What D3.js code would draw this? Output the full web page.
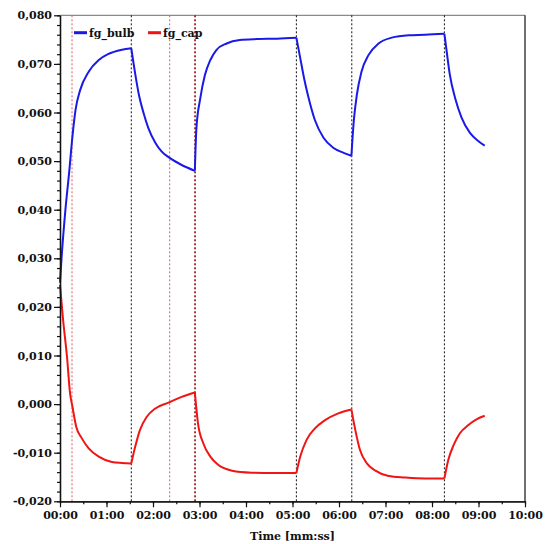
<!DOCTYPE html>
<html>
<head>
<meta charset="utf-8">
<script src="https://cdn.jsdelivr.net/npm/d3@7"></script>
<style>
  html, body { margin: 0; padding: 0; background: #ffffff; }
  svg text { font-family: "DejaVu Serif", "Liberation Serif", serif; font-weight: bold; }
</style>
</head>
<body>
<svg id="chart" width="547" height="544"></svg>
<script>
// Elapsed time in seconds, with the readings of each probe
const bulbTime = [0, 2, 7, 12, 16, 20, 26, 37, 50, 62, 80, 92,
  97, 102, 108, 114, 123, 131, 142, 157, 174,
  176, 181, 187, 194, 202, 215, 232, 254, 280, 305,
  310, 315, 320, 329, 340, 353, 366, 376,
  379, 383, 389, 398, 411, 428, 450, 471, 496,
  499, 503, 510, 518, 529, 540, 548];
const bulbValues = [0.0250, 0.0300, 0.0400, 0.0480, 0.0550, 0.0605, 0.0646, 0.0684, 0.0708, 0.0720, 0.0729, 0.0732,
  0.0680, 0.0635, 0.0598, 0.0568, 0.0538, 0.0520, 0.0506, 0.0492, 0.0480,
  0.0567, 0.0629, 0.0677, 0.0708, 0.0729, 0.0742, 0.0749, 0.0751, 0.0752, 0.0754,
  0.0712, 0.0670, 0.0635, 0.0584, 0.0548, 0.0527, 0.0517, 0.0511,
  0.0581, 0.0636, 0.0684, 0.0718, 0.0742, 0.0754, 0.0759, 0.0760, 0.0762,
  0.0725, 0.0678, 0.0629, 0.0590, 0.0558, 0.0541, 0.0532];

const capTime = [0, 4, 9, 13, 16, 21, 28, 37, 50, 67, 80, 92,
  97, 103, 112, 123, 140, 157, 174,
  178, 185, 194, 204, 222, 247, 277, 305,
  310, 318, 329, 342, 359, 376,
  381, 387, 396, 407, 424, 445, 471, 496,
  501, 508, 516, 527, 538, 548];
const capValues = [0.0245, 0.0173, 0.0098, 0.0022, -0.0005, -0.0047, -0.0070, -0.0091, -0.0108, -0.0119, -0.0121, -0.0122,
  -0.0088, -0.0054, -0.0026, -0.0009, 0.0003, 0.0015, 0.0024,
  -0.0039, -0.0081, -0.0108, -0.0125, -0.0137, -0.0141, -0.0142, -0.0142,
  -0.0108, -0.0074, -0.0050, -0.0033, -0.0019, -0.0011,
  -0.0053, -0.0094, -0.0122, -0.0137, -0.0148, -0.0151, -0.0153, -0.0153,
  -0.0115, -0.0084, -0.0060, -0.0043, -0.0031, -0.0024];

// Instants where the flow was switched (curves break sharply here)
const switchTimes = [0, 92, 174, 305, 376, 496, 548];

// Event markers
const redMarkers = [15.5, 141.5, 173.5];
const blackMarkers = [92, 174.5, 305, 376.5, 496];

const seriesNames = ["fg_bulb", "fg_cap"];
const seriesColors = ["#1a1ae6", "#f01414"];

const xTicks = d3.range(0, 601, 60);
const xMinorTicks = d3.range(0, 601, 30);
const yTicks = d3.range(-0.02, 0.0801, 0.01);
const yMinorTicks = d3.range(-0.02, 0.0801, 0.002);

const svg = d3.select("#chart");
const plotLeft = 60, plotRight = 525, plotTop = 15.3, plotBottom = 501.3;

const x = d3.scaleLinear().domain([0, 600]).range([plotLeft, plotRight]);
const y = d3.scaleLinear().domain([-0.02, 0.08]).range([plotBottom, plotTop]);

const comma = d3.formatLocale({ decimal: ",", thousands: ".", grouping: [3], currency: ["", ""], minus: "-" });
const yFmt = comma.format(".3f");
const pad = n => String(n).padStart(2, "0");
const xFmt = t => pad(Math.floor(t / 60)) + ":" + pad(Math.round(t % 60));

// frame
svg.append("line").attr("x1", plotLeft).attr("x2", plotRight).attr("y1", plotTop).attr("y2", plotTop)
  .attr("stroke", "#8a8a8a").attr("stroke-width", 1.3);
svg.append("line").attr("x1", plotRight).attr("x2", plotRight).attr("y1", plotTop).attr("y2", plotBottom)
  .attr("stroke", "#222").attr("stroke-width", 1.3);

// event markers
svg.selectAll("line.red-marker").data(redMarkers).enter().append("line")
  .attr("class", "red-marker")
  .attr("x1", d => x(d)).attr("x2", d => x(d))
  .attr("y1", plotTop).attr("y2", plotBottom)
  .attr("stroke", "#e05a5a").attr("stroke-width", 1).attr("stroke-dasharray", "2,2");
svg.selectAll("line.black-marker").data(blackMarkers).enter().append("line")
  .attr("class", "black-marker")
  .attr("x1", d => x(d)).attr("x2", d => x(d))
  .attr("y1", plotTop).attr("y2", plotBottom)
  .attr("stroke", "#111").attr("stroke-width", 1).attr("stroke-dasharray", "2,2");

// series, drawn one switching interval at a time
const line = d3.line().x(d => x(d[0])).y(d => y(d[1])).curve(d3.curveMonotoneX);
function segments(times, values) {
  const pts = times.map((t, i) => [t, values[i]]);
  const segs = [];
  for (let i = 0; i < switchTimes.length - 1; i++) {
    const a = switchTimes[i], b = switchTimes[i + 1];
    segs.push(pts.filter(p => p[0] >= a && p[0] <= b));
  }
  return segs.filter(s => s.length > 1);
}
const series = [[bulbTime, bulbValues], [capTime, capValues]];
series.forEach((s, k) => {
  svg.append("g").selectAll("path").data(segments(s[0], s[1])).enter().append("path")
    .attr("d", line)
    .attr("fill", "none")
    .attr("stroke", seriesColors[k])
    .attr("stroke-width", 2)
    .attr("stroke-linejoin", "round");
});

// axes
svg.append("g").attr("transform", `translate(0,${plotBottom})`)
  .call(d3.axisBottom(x).tickValues(xTicks).tickFormat(xFmt).tickSize(6).tickSizeOuter(0).tickPadding(4));
svg.append("g").attr("transform", `translate(0,${plotBottom})`)
  .call(d3.axisBottom(x).tickValues(xMinorTicks).tickFormat("").tickSize(3).tickSizeOuter(0));
svg.append("g").attr("transform", `translate(${plotLeft},0)`)
  .call(d3.axisLeft(y).tickValues(yTicks).tickFormat(yFmt).tickSize(6).tickSizeOuter(0).tickPadding(2));
svg.append("g").attr("transform", `translate(${plotLeft},0)`)
  .call(d3.axisLeft(y).tickValues(yMinorTicks).tickFormat("").tickSize(3).tickSizeOuter(0));

svg.selectAll(".domain").attr("stroke", "#111").attr("stroke-width", 1.3);
svg.selectAll(".tick line").attr("stroke", "#111").attr("stroke-width", 1.2);
svg.selectAll(".tick text").attr("font-size", 11).attr("fill", "#111")
  .attr("font-family", "DejaVu Serif").attr("font-weight", "bold");

// axis title
svg.append("text").attr("x", (plotLeft + plotRight) / 2).attr("y", 540)
  .attr("text-anchor", "middle").attr("font-size", 11).attr("fill", "#111")
  .text("Time [mm:ss]");

// legend
const legendX = [74, 148];
seriesNames.forEach((name, k) => {
  svg.append("line").attr("x1", legendX[k]).attr("x2", legendX[k] + 13)
    .attr("y1", 32.7).attr("y2", 32.7)
    .attr("stroke", seriesColors[k]).attr("stroke-width", 3);
  svg.append("text").attr("x", legendX[k] + 15).attr("y", 36.5)
    .attr("font-size", 11).attr("fill", "#111").text(name);
});
</script>
</body>
</html>
